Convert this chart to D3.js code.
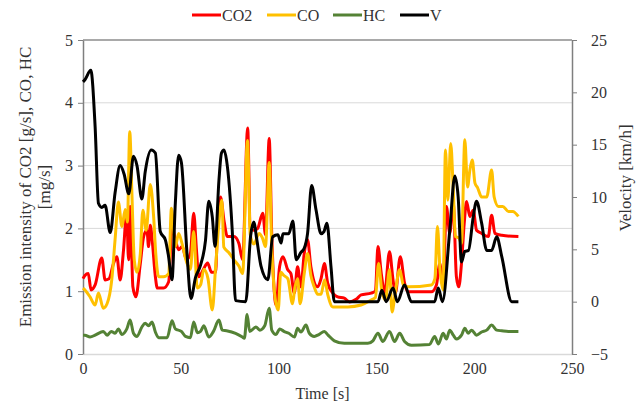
<!DOCTYPE html>
<html><head><meta charset="utf-8">
<script src="https://cdn.jsdelivr.net/npm/d3@7"></script>
<style>
html,body{margin:0;padding:0;background:#fff;}
svg text{font-family:"Liberation Serif","Times New Roman",serif;fill:#333;}
</style></head>
<body><svg id="c" width="641" height="407"></svg>
<script>
// ---- data (time [s], value) ----
const vTime = [0,1,4,6.2,7.9,9.6,11.3,13.9,16.4,19.0,21.0,23.4,25.8,27.6,30.1,31.8,34.9,37.0,39.5,42.1,43.6,45.5,47.2,48.9,50.3,53.2,55.2,57.5,60.1,62.6,64.3,66.1,67.5,69.5,70.8,72.1,73.4,76.3,78.0,83.2,85.7,87.3,88.8,91.0,94.5,97.0,99.6,101.3,102.2,105.2,107.3,109.0,111.4,113.1,114.8,116.9,119.1,121.7,123.2,124.7,126.8,128.5,150.8,152.8,155.0,158.5,160.7,164.4,167.9,179.8,181.6,183.8,187.5,190.1,191.8,193.5,195.2,197.1,199.5,201.2,203.8,206.4,208.9,211.5,214.1,219.2,222.6];
const vValues = [21.0,21.2,22.1,16.7,9.4,9.0,9.2,6.6,10.4,13.0,12.2,10.3,13.9,13.0,9.8,12.4,14.5,14.2,6.7,5.9,4.5,2.1,9.4,14.0,13.3,4.5,0.3,2.3,3.5,5.8,9.6,8.1,5.3,11.6,14.2,14.5,13.5,6.8,0.1,0,6.3,7.6,6.0,3.4,2.1,6.2,6.4,5.6,6.5,6.5,7.7,4.0,4.7,5.1,6.5,11.1,8.8,6.5,6.7,7.5,3.3,0,0,1.1,0,1.3,0,1.6,0,0,1.3,0,6.8,12.0,10.0,3.8,4.8,4.9,8.1,9.6,7.5,4.9,4.9,6.2,4.3,0,0];

const co2Time = [0,1.0,2.7,4.1,6.2,9.6,11.3,13.3,15.6,17.3,19.0,20.7,22.3,23.3,24.1,25.5,27.0,29.3,31.0,32.7,33.5,34.4,35.4,37.0,38.0,41.2,43.8,45.5,47.2,48.9,50.7,52.9,54.9,56.6,58.0,59.2,61.6,63.7,65.7,67.8,68.6,70.3,72.2,73.8,77.2,79.7,81.6,84.2,85.5,87.4,89.3,91.9,93.3,95.2,96.5,98.7,100.5,102.2,104.7,106.3,108.0,109.7,111.4,113.1,114.8,116.5,120.0,121.7,123.4,125.1,127.7,130.2,133.6,136.2,139.6,142.2,147.3,149.5,150.8,152.5,154.2,156.7,158.5,159.7,162.2,164.4,166.2,178.1,180.7,182.4,184.1,185.8,187.5,189.3,190.9,192.1,193.5,194.9,196.1,197.8,199.5,201.2,203.8,207.2,208.9,210.6,214.1,222.6];
const co2Values = [1.2,1.25,1.28,1.02,1.1,1.53,1.18,1.2,1.44,1.55,1.18,1.65,2.25,1.5,2.35,1.07,0.91,1.44,1.87,1.97,1.71,2.05,1.8,1.23,1.05,1.05,1.15,2.03,1.82,1.66,1.71,1.5,1.6,2.24,1.66,1.23,1.35,1.45,1.3,1.3,1.87,2.5,2.1,1.87,1.87,1.76,1.5,3.6,2.0,1.97,2.0,2.24,1.9,3.43,1.9,0.78,1.39,1.55,1.34,1.28,0.97,1.39,1.07,1.6,1.82,1.39,1.07,1.2,1.44,1.13,0.97,0.91,0.89,0.83,0.87,0.94,0.97,1.0,1.71,1.28,0.97,1.63,1.18,0.97,1.55,1.13,0.99,0.99,1.1,1.44,1.07,2.35,1.92,2.4,1.23,1.07,1.44,2.08,2.43,2.19,2.29,1.97,1.92,1.87,2.21,1.92,1.89,1.87];

const coTime = [0,1.0,3.6,6.2,7.9,10.4,12.3,14.7,16.4,18.1,19.9,21.6,22.7,23.9,25.0,26.2,27.6,29.3,30.6,32.3,34.4,36.1,37.2,38.7,41.2,43.8,45.2,47.2,48.9,50.7,53.2,54.9,56.6,58.4,60.1,61.8,63.9,66.1,67.8,69.5,71.0,72.0,74.4,77.2,79.7,81.6,84.1,85.5,87.4,90.0,91.7,93.3,95.2,96.5,98.4,99.8,101.1,102.7,104.7,107.1,108.3,109.7,111.0,113.1,114.8,116.5,118.2,120.0,121.7,123.5,125.1,127.7,135.4,142.2,147.3,149.5,151.1,152.8,154.6,156.7,158.0,159.5,161.9,163.8,166.2,178.1,179.9,181.2,182.5,184.1,185.3,186.5,188.0,189.3,190.4,192.1,193.5,195.2,196.6,197.8,199.0,200.4,201.7,203.8,206.4,208.9,210.2,212.4,214.6,217.5,219.7,222.6];
const coValues = [1.05,1.02,0.91,0.78,0.97,0.73,0.8,1.18,1.82,2.42,2.03,2.3,2.1,3.54,2.56,1.5,1.3,1.6,2.29,1.97,2.7,2.19,1.6,1.23,1.23,1.28,2.32,1.71,1.92,1.75,1.44,1.35,1.95,1.05,1.1,1.35,1.2,0.7,1.39,2.1,2.45,1.7,1.62,1.5,1.4,1.28,3.4,1.9,1.75,1.92,1.85,1.71,3.05,1.7,0.85,0.7,1.3,1.25,1.2,0.8,1.05,1.2,0.8,1.28,1.6,1.25,1.07,0.95,0.95,1.18,0.95,0.75,0.75,0.78,0.86,0.9,1.44,1.0,0.86,1.34,0.67,0.95,1.34,1.1,1.07,1.1,1.2,2.03,1.35,1.02,3.25,2.45,3.35,2.61,1.87,1.85,1.76,3.41,2.66,2.93,3.09,2.72,2.65,2.5,2.5,2.93,2.5,2.35,2.35,2.27,2.27,2.19];

const hcTime = [0,1,3.6,6.2,8.7,10.4,12.3,14.4,16.4,18.1,19.9,22.4,24.1,25.8,27.6,30.1,31.8,33.5,35.3,37.0,38.7,43.0,45.5,47.2,50.3,52.4,54.9,56.6,58.5,60.1,61.8,64.3,66.7,69.5,71.2,73.4,78.0,81.5,82.5,83.9,85.2,88.4,90.4,92.9,95.2,96.5,98.7,100.6,102.7,105.2,108.1,109.7,111.4,114.0,115.7,118.2,120.6,123.4,125.3,128.5,133.6,145.6,148.2,150.8,153.3,156.7,159.3,161.9,164.4,167.9,177.1,179.8,181.7,184.1,185.8,187.5,189.3,190.9,193.5,195.2,196.9,198.7,201.2,203.8,206.4,208.9,211.5,214.1,217.5,222.6];
const hcValues = [0.3,0.3,0.27,0.3,0.34,0.36,0.3,0.36,0.33,0.4,0.31,0.4,0.54,0.33,0.28,0.43,0.49,0.45,0.51,0.35,0.26,0.26,0.53,0.4,0.36,0.28,0.26,0.51,0.34,0.36,0.45,0.27,0.36,0.54,0.38,0.37,0.33,0.27,0.25,0.63,0.36,0.43,0.38,0.45,0.73,0.38,0.31,0.4,0.36,0.33,0.27,0.41,0.35,0.46,0.33,0.28,0.31,0.36,0.3,0.21,0.17,0.17,0.21,0.33,0.2,0.36,0.2,0.33,0.2,0.14,0.15,0.28,0.16,0.33,0.24,0.38,0.3,0.24,0.3,0.41,0.33,0.38,0.3,0.35,0.38,0.46,0.38,0.37,0.36,0.36];

const xTicks = [0,50,100,150,200,250];
const leftTicks = [0,1,2,3,4,5];
const rightTicks = [-5,0,5,10,15,20,25];
const seriesNames = ["CO2","CO","HC","V"];
const seriesColors = ["#ff0000","#ffc000","#548235","#000000"];

// ---- layout ----
const svg = d3.select("#c");
const L = 83, R = 572, T = 40, B = 354;
const FONT = "Liberation Serif, Times New Roman, serif";
const x = d3.scaleLinear().domain([0,250]).range([L,R]);
const yL = d3.scaleLinear().domain([0,5]).range([B,T]);
const yR = d3.scaleLinear().domain([-5,25]).range([B,T]);

// gridlines
svg.append("g").selectAll("line").data(leftTicks.filter(d=>d>0 && d<5)).join("line")
  .attr("x1",L).attr("x2",R).attr("y1",d=>yL(d)).attr("y2",d=>yL(d))
  .attr("stroke","#d9d9d9").attr("stroke-width",1);
// top border
svg.append("line").attr("x1",L).attr("x2",R).attr("y1",T).attr("y2",T)
  .attr("stroke","#8c8c8c").attr("stroke-width",1.5);

// axes
const fs = "16px";
function styleAxis(g){
  g.attr("font-family",FONT).attr("font-size",16);
  g.selectAll("text").attr("fill","#333").style("font-family",FONT).style("font-size",fs);
}
const gx = svg.append("g").attr("transform",`translate(0,${B})`)
  .call(d3.axisBottom(x).tickValues(xTicks).tickFormat(d3.format("d")).tickSize(0).tickPadding(9).tickSizeOuter(0));
gx.select(".domain").attr("stroke","#d9d9d9").attr("stroke-width",1.5);
styleAxis(gx);

const gl = svg.append("g").attr("transform",`translate(${L},0)`)
  .call(d3.axisLeft(yL).tickValues(leftTicks).tickFormat(d3.format("d")).tickSize(5).tickPadding(5).tickSizeOuter(0));
gl.select(".domain").attr("stroke","#7f7f7f").attr("stroke-width",1.5);
gl.selectAll(".tick line").attr("stroke","#7f7f7f");
styleAxis(gl);

const gr = svg.append("g").attr("transform",`translate(${R},0)`)
  .call(d3.axisRight(yR).tickValues(rightTicks).tickFormat(d3.format("d")).tickSize(5).tickPadding(14).tickSizeOuter(0));
gr.select(".domain").attr("stroke","#7f7f7f").attr("stroke-width",1.5);
gr.selectAll(".tick line").attr("stroke","#7f7f7f");
styleAxis(gr);

// axis titles
svg.append("text").attr("x",(L+R)/2-5).attr("y",399).attr("text-anchor","middle")
  .style("font-size",fs).text("Time [s]");
const lt = svg.append("text").attr("transform",`translate(31,187) rotate(-90)`)
  .attr("text-anchor","middle").style("font-size","17px");
lt.append("tspan").attr("x",0).attr("dy",0).text("Emission intensity of CO2 [g/s], CO, HC");
lt.append("tspan").attr("x",0).attr("dy","1.1em").text("[mg/s]");
svg.append("text").attr("transform",`translate(631,178) rotate(-90)`)
  .attr("text-anchor","middle").style("font-size","17px").text("Velocity [km/h]");

// series
const line = (xs, ys, yScale) => d3.line().curve(d3.curveMonotoneX)
  .x((d,i)=>x(xs[i])).y((d,i)=>yScale(ys[i]))(ys);
const plot = svg.append("g");
plot.append("path").attr("d",line(co2Time,co2Values,yL)).attr("fill","none")
  .attr("stroke",seriesColors[0]).attr("stroke-width",3).attr("stroke-linejoin","round");
plot.append("path").attr("d",line(coTime,coValues,yL)).attr("fill","none")
  .attr("stroke",seriesColors[1]).attr("stroke-width",3).attr("stroke-linejoin","round");
plot.append("path").attr("d",line(hcTime,hcValues,yL)).attr("fill","none")
  .attr("stroke",seriesColors[2]).attr("stroke-width",3).attr("stroke-linejoin","round");
plot.append("path").attr("d",line(vTime,vValues,yR)).attr("fill","none")
  .attr("stroke",seriesColors[3]).attr("stroke-width",3).attr("stroke-linejoin","round");

// legend
const legX = [192,267,333,400];
const lg = svg.append("g");
seriesNames.forEach((n,i)=>{
  lg.append("line").attr("x1",legX[i]).attr("x2",legX[i]+29).attr("y1",15).attr("y2",15)
    .attr("stroke",seriesColors[i]).attr("stroke-width",3);
  lg.append("text").attr("x",legX[i]+30).attr("y",20.5).style("font-size",fs).text(n);
});
</script></body></html>
